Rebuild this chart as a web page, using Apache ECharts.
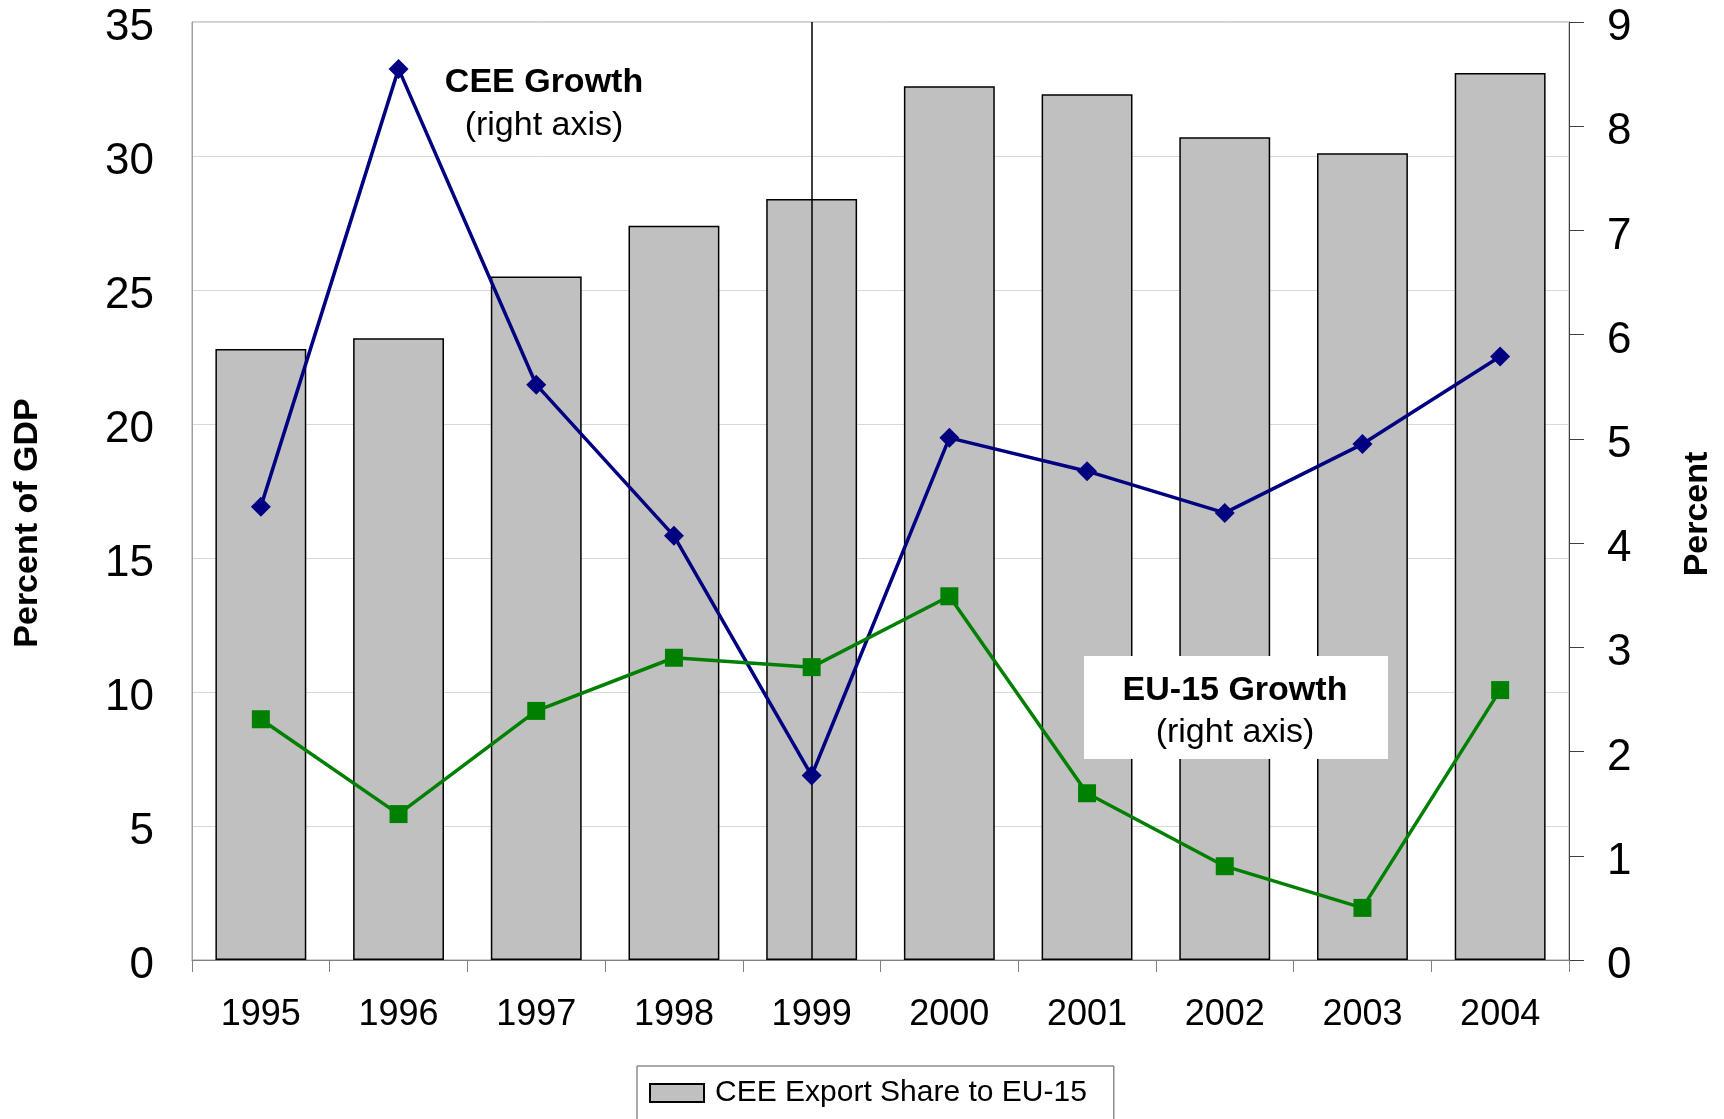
<!DOCTYPE html>
<html>
<head>
<meta charset="utf-8">
<script src="https://cdn.jsdelivr.net/npm/echarts@6/dist/echarts.min.js"></script>
<style>
  html, body { margin: 0; padding: 0; background: #fff; }
  #chart { width: 1724px; height: 1119px; }
</style>
</head>
<body>
<div id="chart"></div>
<script>
// data
const years = ['1995', '1996', '1997', '1998', '1999', '2000', '2001', '2002', '2003', '2004']
const exportShare = [22.8, 23.2, 25.5, 27.4, 28.4, 32.6, 32.3, 30.7, 30.1, 33.1] // left axis, % of GDP
const ceeGrowth = [4.35, 8.55, 5.52, 4.07, 1.77, 5.01, 4.69, 4.29, 4.95, 5.79]   // right axis
const euGrowth = [2.31, 1.40, 2.39, 2.90, 2.81, 3.49, 1.60, 0.90, 0.50, 2.59]    // right axis
const markYear = '1999'

const FONT = "'Liberation Sans', Arial, sans-serif"

const chart = echarts.init(document.getElementById('chart'))

// little helper for the free text
function label (text, x, y, size, bold, rot) {
  return {
    type: 'text',
    x: x,
    y: y,
    rotation: rot || 0,
    z: 110,
    style: {
      text: text,
      fill: '#000',
      fontSize: size,
      fontWeight: bold ? 'bold' : 'normal',
      fontFamily: FONT,
      align: 'center',
      verticalAlign: 'middle',
      textAlign: 'center',
      textVerticalAlign: 'middle'
    }
  }
}

// value labels sit a few px below their tick, like the original
const yLabel = { fontSize: 44, color: '#000', margin: 38, fontFamily: FONT, verticalAlign: 'top', lineHeight: 12 }

chart.setOption({
  animation: false,
  backgroundColor: '#fff',
  textStyle: { fontFamily: FONT },
  grid: {
    left: 192,
    right: 155,
    top: 22,
    bottom: 159,
    show: true,
    borderColor: '#a0a0a0',
    borderWidth: 1
  },
  legend: {
    data: ['CEE Export Share to EU-15'],
    left: 637,
    top: 1066,
    icon: 'rect',
    itemWidth: 54,
    itemHeight: 18,
    padding: [12, 27, 20, 12],
    borderColor: '#555',
    borderWidth: 1,
    textStyle: { fontSize: 30, color: '#000', fontFamily: FONT, padding: [0, 0, 0, 6] }
  },
  xAxis: {
    type: 'category',
    data: years,
    axisLine: { lineStyle: { color: '#808080', width: 1 } },
    axisTick: { show: true, length: 12, lineStyle: { color: '#808080' } },
    axisLabel: { fontSize: 36, color: '#000', margin: 37, fontFamily: FONT }
  },
  yAxis: [
    {
      type: 'value',
      min: 0,
      max: 35,
      interval: 5,
      axisLine: { show: true, lineStyle: { color: '#a0a0a0' } },
      axisTick: { show: false },
      splitLine: { lineStyle: { color: '#d8d8d8', width: 1 } },
      axisLabel: yLabel
    },
    {
      type: 'value',
      min: 0,
      max: 9,
      interval: 1,
      position: 'right',
      axisLine: { show: true, lineStyle: { color: '#404040' } },
      axisTick: { show: true, length: 15, lineStyle: { color: '#404040' } },
      splitLine: { show: false },
      axisLabel: yLabel
    }
  ],
  series: [
    {
      name: 'CEE Export Share to EU-15',
      type: 'bar',
      data: exportShare,
      barWidth: '66%',
      itemStyle: { color: '#c0c0c0', borderColor: '#000', borderWidth: 1.5 },
      markLine: {
        silent: true,
        symbol: ['none', 'none'],
        label: { show: false },
        lineStyle: { color: '#000', width: 1.5, type: 'solid' },
        data: [{ xAxis: markYear }]
      }
    },
    {
      name: 'CEE Growth',
      type: 'line',
      yAxisIndex: 1,
      data: ceeGrowth,
      symbol: 'diamond',
      symbolSize: 20,
      color: '#000080',
      lineStyle: { color: '#000080', width: 3.5 },
      itemStyle: { color: '#000080' },
      z: 5
    },
    {
      name: 'EU-15 Growth',
      type: 'line',
      yAxisIndex: 1,
      data: euGrowth,
      symbol: 'rect',
      symbolSize: 18,
      color: '#008000',
      lineStyle: { color: '#008000', width: 3.5 },
      itemStyle: { color: '#008000' },
      z: 5
    }
  ],
  graphic: [
    label('Percent of GDP', 28, 523, 34, true, Math.PI / 2),
    label('Percent', 1698, 514, 34, true, Math.PI / 2),
    label('CEE Growth', 544, 83, 34, true),
    label('(right axis)', 544, 126, 34, false),
    {
      type: 'rect',
      shape: { x: 1084, y: 656, width: 304, height: 103 },
      style: { fill: '#fff' },
      z: 100
    },
    label('EU-15 Growth', 1235, 691, 34, true),
    label('(right axis)', 1235, 733, 34, false)
  ]
})
</script>
</body>
</html>
